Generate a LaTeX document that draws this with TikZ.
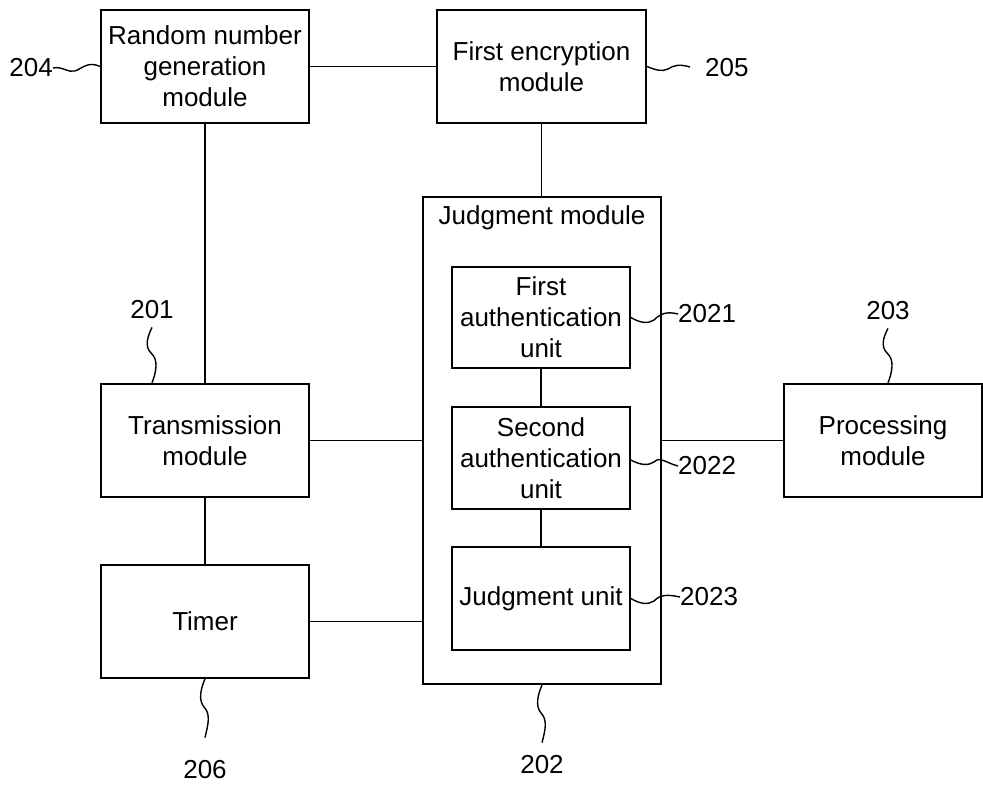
\documentclass[tikz,border=0pt]{standalone}
\usepackage{fontspec}
\setmainfont{Liberation Sans}
\usetikzlibrary{calc}
\begin{document}
\begin{tikzpicture}[x=1pt,y=-1pt,
  every node/.style={font=\fontsize{26}{31}\selectfont},
  box/.style={draw,line width=1.8pt,inner sep=0pt,align=center},
  link/.style={line width=1.8pt},
  squig/.style={line width=1.4pt},
  num/.style={inner sep=0pt}]
\useasboundingbox (0,0) rectangle (983,786);
% boxes
\node[box,minimum width=208pt,minimum height=113pt] (rng) at (205,66.5) {Random number\\generation\\module};
\node[box,minimum width=209pt,minimum height=113pt] (fe) at (541.5,66.5) {First encryption\\module};
\node[box,line width=2.2pt,minimum width=238pt,minimum height=487pt] (judg) at (542,440.5) {};
\node[inner sep=0pt] (jtitle) at (542,218) {Judgment module};
\node[box,minimum width=178pt,minimum height=101pt] (fa) at (541,317.5) {First\\authentication\\unit};
\node[box,minimum width=178pt,minimum height=102pt] (sa) at (541,458) {Second\\authentication\\unit};
\node[box,minimum width=178pt,minimum height=103pt] (ju) at (541,598.5) {Judgment unit};
\node[box,minimum width=208pt,minimum height=113pt] (trans) at (205,440.5) {Transmission\\module};
\node[box,minimum width=208pt,minimum height=113pt] (timer) at (205,621.5) {Timer};
\node[box,minimum width=198pt,minimum height=113pt] (proc) at (883,440.5) {Processing\\module};
% connectors
\draw[link] (rng.east) -- (fe.west);
\draw[link] (fe.south) -- (fe.south |- judg.north);
\draw[link] (rng.south) -- (trans.north);
\draw[link] (trans.east) -- (trans.east -| judg.west);
\draw[link] (trans.south) -- (timer.south |- timer.north);
\draw[link] (timer.east) -- (timer.east -| judg.west);
\draw[link] (fa.south) -- (sa.north);
\draw[link] (sa.south) -- (ju.north);
\draw[link] (judg.east |- proc.west) -- (proc.west);
% reference numerals
\node[num,anchor=east] (l204) at (53,68) {204};
\node[num,anchor=west] (l205) at (705,68) {205};
\node[num] (l201) at (152,310) {201};
\node[num] (l203) at (888,311) {203};
\node[num] (l206) at (205,770) {206};
\node[num] (l202) at (542,765) {202};
\node[num,anchor=west] (l2021) at (678,314) {2021};
\node[num,anchor=west] (l2022) at (678,466) {2022};
\node[num,anchor=west] (l2023) at (680,597) {2023};
% squiggles
\draw[squig] (l204.east) .. controls (62,66) and (68,73) .. (75,71) .. controls (83,68) and (88,61) .. (rng.west);
\draw[squig] (fe.east) .. controls (656,70) and (662,72) .. (668,69) .. controls (674,65) and (680,64) .. (690,67);
\draw[squig] ($(l201.south)+(0,8)$) .. controls (148,336) and (144,346) .. (151,353) .. controls (159,360) and (156,372) .. (l201.south |- trans.north);
\draw[squig] ($(l203.south)+(0,8)$) .. controls (884,336) and (880,346) .. (887,353) .. controls (895,360) and (892,372) .. (l203.south |- proc.north);
\draw[squig] (timer.south) .. controls (201,688) and (198,700) .. (204,707) .. controls (211,714) and (208,725) .. ($(l206.north)+(0,-23)$);
\draw[squig] (judg.south) .. controls (538,694) and (535,706) .. (541,713) .. controls (548,720) and (545,731) .. ($(l202.north)+(0,-13)$);
\draw[squig] (fa.east) .. controls (640,323) and (648,324) .. (654,320) .. controls (660,314) and (666,311) .. (l2021.west);
\draw[squig] ($(sa.east)+(0,2)$) .. controls (640,465) and (648,466) .. (654,462) .. controls (660,456) and (666,463) .. (l2022.west);
\draw[squig] (ju.east) .. controls (640,604) and (648,605) .. (654,601) .. controls (660,595) and (666,594) .. (l2023.west);
\end{tikzpicture}
\end{document}
